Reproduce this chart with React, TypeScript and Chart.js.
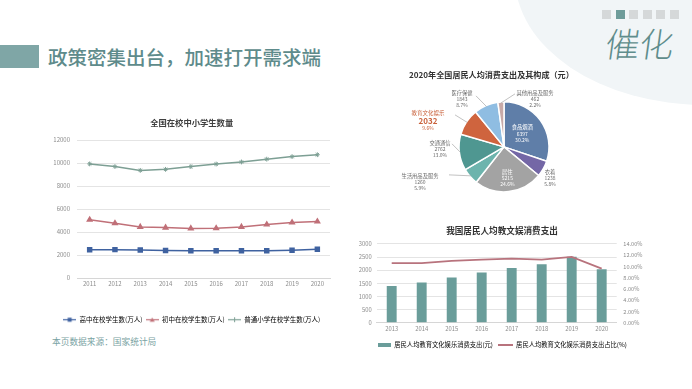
import React, { useEffect, useRef } from "react";
import { Chart, registerables } from "chart.js";

Chart.register(...registerables);

const FONT = '"Noto Sans CJK SC", "Noto Sans", sans-serif';
Chart.defaults.font.family = FONT;

// ---------- Left: 全国在校中小学生数量 ----------
const studentYears = ["2011", "2012", "2013", "2014", "2015", "2016", "2017", "2018", "2019", "2020"];
const highSchool = [2455, 2467, 2436, 2400, 2374, 2367, 2375, 2375, 2414, 2495];
const middleSchool = [5067, 4763, 4440, 4385, 4312, 4329, 4442, 4653, 4827, 4914];
const primarySchool = [9926, 9696, 9361, 9451, 9692, 9913, 10094, 10339, 10561, 10725];
const studentSeries = ["高中在校学生数(万人)", "初中在校学生数(万人)", "普通小学在校学生数(万人)"];
const studentTitle = "全国在校中小学生数量";
const studentMax = 12000;
const studentStep = 2000;

// ---------- Pie: 2020年全国居民人均消费支出及其构成 ----------
const pieTitle = "2020年全国居民人均消费支出及其构成（元）";
const pieLabels = ["食品烟酒", "衣着", "居住", "生活用品及服务", "交通通信", "教育文化娱乐", "医疗保健", "其他用品及服务"];
const pieValues = [6397, 1238, 5215, 1260, 2762, 2032, 1843, 462];
const piePercents = ["30.2%", "5.8%", "24.6%", "5.9%", "13.0%", "9.6%", "8.7%", "2.2%"];

// ---------- Bar: 我国居民人均教文娱消费支出 ----------
const eduTitle = "我国居民人均教文娱消费支出";
const eduYears = ["2013", "2014", "2015", "2016", "2017", "2018", "2019", "2020"];
const eduSpend = [1398, 1536, 1723, 1915, 2086, 2226, 2513, 2032];
const eduShare = [10.6, 10.6, 11.0, 11.2, 11.4, 11.2, 11.7, 9.6];
const eduSeries = ["居民人均教育文化娱乐消费支出(元)", "居民人均教育文化娱乐消费支出占比(%)"];

// ---------- styles ----------
const BLUE = "#3f62a0";
const RED = "#c07078";
const GREEN = "#7d9f94";
const TEAL = "#6a9d9a";
const MAUVE = "#b8737d";
const TICK = "#8c8c8c";
const GRID = "#e4e4e4";
const pieColors = ["#5f7ea8", "#7467a6", "#a3a3a3", "#6db4ad", "#4f9791", "#cf643e", "#8fbde2", "#c8aaa8"];

// label layout for the pie (pixels relative to pie centre)
const pieLabelLayout: any[] = [
  { inside: true, dist: 0.5 },
  { dx: 46, dy: 31 },
  { inside: true, dist: 0.7 },
  { dx: -84, dy: 35, line: [-55, 28] },
  { dx: -64, dy: 2, line: [-52, -3] },
  { dx: -76, dy: -26, line: [-49, -32], accent: true },
  { dx: -42, dy: -48, line: [-28, -51] },
  { dx: 31, dy: -48, line: [11, -53] },
];

const plain = (v: any) => String(v);

function makeIcon(w: number, h: number, draw: (g: CanvasRenderingContext2D) => void) {
  const c = document.createElement("canvas");
  c.width = w;
  c.height = h;
  const g = c.getContext("2d")!;
  draw(g);
  return c;
}

function lineIcon(color: string, marker: string) {
  return makeIcon(13, 7, (g) => {
    g.strokeStyle = color;
    g.fillStyle = color;
    g.lineWidth = 1.2;
    g.beginPath();
    g.moveTo(0, 3.5);
    g.lineTo(13, 3.5);
    g.stroke();
    if (marker === "rect") {
      g.fillRect(4.5, 1.5, 4, 4);
    } else if (marker === "tri") {
      g.beginPath();
      g.moveTo(6.5, 1.2);
      g.lineTo(9, 5.6);
      g.lineTo(4, 5.6);
      g.closePath();
      g.fill();
    } else {
      g.lineWidth = 1;
      g.beginPath();
      g.moveTo(6.5, 1);
      g.lineTo(6.5, 6);
      g.moveTo(4, 3.5);
      g.lineTo(9, 3.5);
      g.stroke();
    }
  });
}

const pieLabelPlugin = {
  id: "pieLabels",
  afterDatasetsDraw(chart: any) {
    const ctx = chart.ctx;
    const meta = chart.getDatasetMeta(0);
    meta.data.forEach((arc: any, i: number) => {
      const { x, y, startAngle, endAngle, outerRadius } = arc.getProps(
        ["x", "y", "startAngle", "endAngle", "outerRadius"],
        true
      );
      const mid = (startAngle + endAngle) / 2;
      const L = pieLabelLayout[i];
      let cx: number, cy: number;
      if (L.inside) {
        cx = x + Math.cos(mid) * outerRadius * L.dist;
        cy = y + Math.sin(mid) * outerRadius * L.dist;
      } else {
        cx = x + L.dx;
        cy = y + L.dy;
      }
      ctx.save();
      if (L.line) {
        ctx.strokeStyle = "#a8a8a8";
        ctx.lineWidth = 0.7;
        ctx.beginPath();
        ctx.moveTo(x + L.line[0], y + L.line[1]);
        ctx.lineTo(x + Math.cos(mid) * (outerRadius - 1), y + Math.sin(mid) * (outerRadius - 1));
        ctx.stroke();
      }
      ctx.textAlign = "center";
      ctx.textBaseline = "middle";
      const color = L.inside ? "#ffffff" : L.accent ? "#c9623c" : "#6b6b6b";
      ctx.fillStyle = color;
      if (L.accent) {
        ctx.font = `5.5px ${FONT}`;
        ctx.fillText(pieLabels[i], cx, cy - 7.5);
        ctx.font = `bold 8px ${FONT}`;
        ctx.fillText(String(pieValues[i]), cx, cy);
        ctx.font = `5px ${FONT}`;
        ctx.fillText(piePercents[i], cx, cy + 7);
      } else {
        ctx.font = `5.3px ${FONT}`;
        ctx.fillText(pieLabels[i], cx, cy - 6.3);
        ctx.font = `5px ${FONT}`;
        ctx.fillText(String(pieValues[i]), cx, cy);
        ctx.fillText(piePercents[i], cx, cy + 6.3);
      }
      ctx.restore();
    });
  },
};

function makeLineChart(canvas: HTMLCanvasElement) {
  const icons = [lineIcon(BLUE, "rect"), lineIcon(RED, "tri"), lineIcon(GREEN, "plus")];
  return new Chart(canvas, {
    type: "line",
    data: {
      labels: studentYears,
      datasets: [
        {
          label: studentSeries[0],
          data: highSchool,
          borderColor: BLUE,
          backgroundColor: BLUE,
          pointBackgroundColor: BLUE,
          pointStyle: "rect",
          pointRadius: 2.8,
          borderWidth: 1.5,
        },
        {
          label: studentSeries[1],
          data: middleSchool,
          borderColor: RED,
          backgroundColor: RED,
          pointBackgroundColor: RED,
          pointStyle: "triangle",
          pointRadius: 2.6,
          borderWidth: 1.5,
        },
        {
          label: studentSeries[2],
          data: primarySchool,
          borderColor: GREEN,
          backgroundColor: GREEN,
          pointBackgroundColor: GREEN,
          pointBorderColor: GREEN,
          pointStyle: "star",
          pointRadius: 2.4,
          pointBorderWidth: 1,
          borderWidth: 1.5,
        },
      ],
    },
    options: {
      responsive: false,
      animation: false,
      layout: { padding: { left: 33.4, right: 10, top: 0, bottom: 0 } },
      plugins: {
        title: {
          display: true,
          text: studentTitle,
          color: "#3f3f3f",
          font: { size: 8.3, weight: "bold" },
          padding: { top: 5.2, bottom: 11.9 },
        },
        legend: {
          position: "bottom",
          labels: {
            usePointStyle: true,
            pointStyleWidth: 13,
            color: "#707070",
            font: { size: 6.5 },
            padding: 3.3,
            generateLabels: (chart: any) =>
              chart.data.datasets.map((ds: any, i: number) => ({
                text: ds.label,
                pointStyle: icons[i],
                fillStyle: "rgba(0,0,0,0)",
                strokeStyle: "rgba(0,0,0,0)",
                lineWidth: 0,
                hidden: false,
                datasetIndex: i,
              })),
          },
        },
        tooltip: { enabled: false },
      },
      scales: {
        x: {
          offset: true,
          grid: { display: false, drawTicks: false },
          border: { display: true, color: "#d6d6d6" },
          ticks: { padding: 2.5, color: TICK, font: { size: 6 }, maxRotation: 0 },
          afterFit: (s: any) => {
            s.height = 35.2;
          },
        },
        y: {
          min: 0,
          max: studentMax,
          grid: { color: GRID, drawTicks: false },
          border: { display: false },
          ticks: { stepSize: studentStep, padding: 7, color: TICK, font: { size: 6 }, callback: plain },
          afterFit: (s: any) => {
            s.width = 23.6;
          },
        },
      },
    } as any,
  });
}

function makePieChart(canvas: HTMLCanvasElement) {
  return new Chart(canvas, {
    type: "pie",
    data: {
      labels: pieLabels,
      datasets: [
        {
          data: pieValues,
          backgroundColor: pieColors,
          borderColor: "#ffffff",
          borderWidth: 1.5,
        },
      ],
    },
    options: {
      responsive: false,
      animation: false,
      layout: { padding: { left: 29, right: 29, top: 0, bottom: 5.4 } },
      plugins: {
        title: {
          display: true,
          align: "start",
          text: pieTitle,
          color: "#333333",
          font: { size: 8.1, weight: "bold" },
          padding: { top: 8.2, bottom: 21.2 },
        },
        legend: { display: false },
        tooltip: { enabled: false },
      },
    } as any,
    plugins: [pieLabelPlugin],
  });
}

function makeBarChart(canvas: HTMLCanvasElement) {
  const icons = [
    makeIcon(13, 4, (g) => {
      g.fillStyle = TEAL;
      g.fillRect(0, 0, 13, 4);
    }),
    makeIcon(15, 2, (g) => {
      g.fillStyle = MAUVE;
      g.fillRect(0, 0, 15, 2);
    }),
  ];
  return new Chart(canvas, {
    type: "bar",
    data: {
      labels: eduYears,
      datasets: [
        {
          type: "bar",
          label: eduSeries[0],
          data: eduSpend,
          backgroundColor: TEAL,
          yAxisID: "y",
          barPercentage: 0.33,
          categoryPercentage: 1,
          order: 2,
        },
        {
          type: "line",
          label: eduSeries[1],
          data: eduShare,
          borderColor: MAUVE,
          backgroundColor: MAUVE,
          borderWidth: 1.8,
          pointRadius: 0,
          yAxisID: "y1",
          order: 1,
        },
      ],
    },
    options: {
      responsive: false,
      animation: false,
      layout: { padding: { left: 0, right: 26, top: 0, bottom: 0 } },
      plugins: {
        title: {
          display: true,
          text: eduTitle,
          color: "#333333",
          font: { size: 8.6, weight: "bold" },
          padding: { top: 4, bottom: 7.6 },
        },
        legend: {
          position: "bottom",
          labels: {
            usePointStyle: true,
            pointStyleWidth: 14,
            color: "#707070",
            font: { size: 6.3 },
            padding: 6,
            generateLabels: (chart: any) =>
              chart.data.datasets.map((ds: any, i: number) => ({
                text: ds.label,
                pointStyle: icons[i],
                fillStyle: "rgba(0,0,0,0)",
                strokeStyle: "rgba(0,0,0,0)",
                lineWidth: 0,
                hidden: false,
                datasetIndex: i,
              })),
          },
        },
        tooltip: { enabled: false },
      },
      scales: {
        x: {
          grid: { display: false, drawTicks: false },
          border: { display: true, color: "#d6d6d6" },
          ticks: { padding: 3, color: TICK, font: { size: 5.8 }, maxRotation: 0 },
        },
        y: {
          position: "left",
          min: 0,
          max: 3000,
          grid: { color: GRID, drawTicks: false },
          border: { display: false },
          ticks: { stepSize: 500, padding: 5, color: TICK, font: { size: 5.8 }, callback: plain },
          afterFit: (s: any) => {
            s.width = 21.7;
          },
        },
        y1: {
          position: "right",
          min: 0,
          max: 14,
          grid: { display: false, drawTicks: false },
          border: { display: false },
          ticks: {
            stepSize: 2,
            padding: 6.6,
            color: TICK,
            font: { size: 5.6 },
            callback: (v: any) => Number(v).toFixed(2) + "%",
          },
          afterFit: (s: any) => {
            s.width = 32.3;
          },
        },
      },
    } as any,
  });
}

export default function App() {
  const lineRef = useRef<HTMLCanvasElement>(null);
  const pieRef = useRef<HTMLCanvasElement>(null);
  const barRef = useRef<HTMLCanvasElement>(null);

  useEffect(() => {
    const charts = [
      makeLineChart(lineRef.current!),
      makePieChart(pieRef.current!),
      makeBarChart(barRef.current!),
    ];
    return () => charts.forEach((c) => c.destroy());
  }, []);

  const squares = [0, 1, 2, 3, 4, 5];

  return (
    <div
      style={{
        position: "fixed",
        left: 0,
        top: 0,
        width: 692,
        height: 389,
        overflow: "hidden",
        background: "#ffffff",
        fontFamily: FONT,
      }}
    >
      <div
        style={{
          position: "absolute",
          left: 515,
          top: -150,
          width: 380,
          height: 255,
          borderRadius: "50%",
          background: "#f1f5f7",
        }}
      />
      {squares.map((i) => (
        <div
          key={i}
          style={{
            position: "absolute",
            left: 602 + i * 13.5,
            top: 10,
            width: 9,
            height: 9,
            background: i === 1 ? "#6e9c9a" : "#d5d8d9",
          }}
        />
      ))}
      <div
        style={{
          position: "absolute",
          left: 606,
          top: 22,
          fontSize: 34,
          lineHeight: "42px",
          color: "#5f8d8c",
          fontWeight: 300,
          transform: "skewX(-8deg)",
          whiteSpace: "nowrap",
        }}
      >
        催化
      </div>
      <div
        style={{
          position: "absolute",
          left: 0,
          top: 45,
          width: 39,
          height: 23,
          background: "#7fa6a6",
        }}
      />
      <div
        style={{
          position: "absolute",
          left: 48,
          top: 45,
          fontSize: 19.5,
          lineHeight: "24px",
          color: "#5e8b8b",
          fontWeight: 500,
          whiteSpace: "nowrap",
        }}
      >
        政策密集出台，加速打开需求端
      </div>
      <canvas
        ref={lineRef}
        width={320}
        height={220}
        style={{ position: "absolute", left: 20, top: 113, width: 320, height: 220 }}
      />
      <canvas
        ref={pieRef}
        width={248}
        height={136}
        style={{ position: "absolute", left: 380, top: 62, width: 248, height: 136 }}
      />
      <canvas
        ref={barRef}
        width={320}
        height={136}
        style={{ position: "absolute", left: 355, top: 222, width: 320, height: 136 }}
      />
      <div
        style={{
          position: "absolute",
          left: 52,
          top: 336,
          fontSize: 8.7,
          lineHeight: "12px",
          color: "#7aa3a3",
          whiteSpace: "nowrap",
        }}
      >
        本页数据来源：国家统计局
      </div>
    </div>
  );
}
